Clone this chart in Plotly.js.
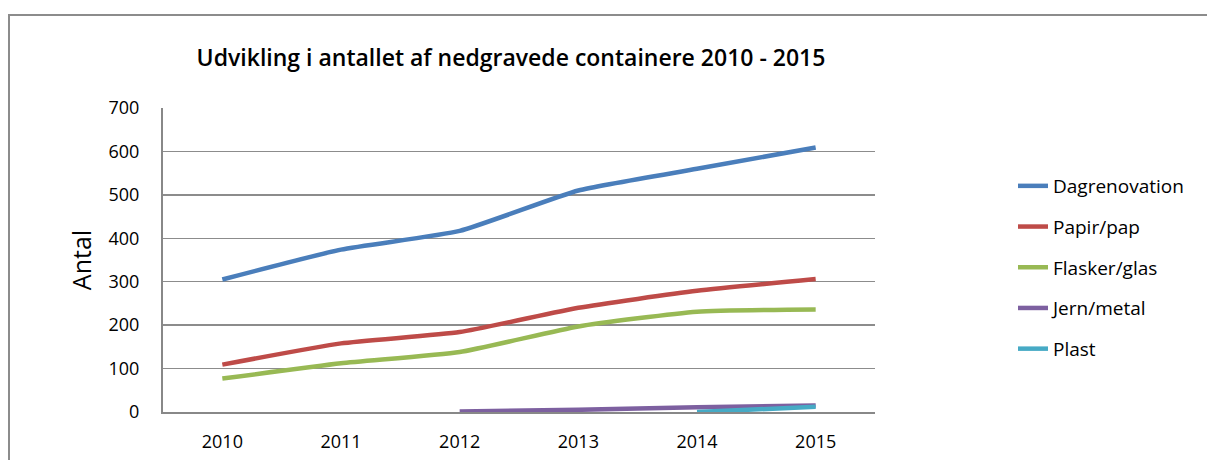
<!DOCTYPE html>
<html>
<head>
<meta charset="utf-8">
<script src="https://cdn.plot.ly/plotly-3.0.1.min.js"></script>
<style>
html,body{margin:0;padding:0;background:#fff;}
#wrap{position:relative;width:1207px;height:460px;}
#chart{position:absolute;left:0;top:0;width:1207px;height:460px;}
#frame{position:absolute;left:8px;top:14px;width:1199px;height:446px;border-top:2px solid #8c8c8c;border-left:2px solid #8c8c8c;box-sizing:border-box;pointer-events:none;}
</style>
</head>
<body>
<div id="wrap"><div id="chart"></div><div id="frame"></div></div>
<script>
const years = ['2010','2011','2012','2013','2014','2015'];
const dagrenovation = [305, 374, 417, 510, 560, 609];
const papirPap = [109, 158, 184, 240, 279, 306];
const flaskerGlas = [77, 112, 138, 197, 231, 236];
const jernMetal = [null, null, 1, 5, 11, 15];
const plast = [null, null, null, null, 0, 12];
const seriesNames = ['Dagrenovation', 'Papir/pap', 'Flasker/glas', 'Jern/metal', 'Plast'];
const seriesColors = ['#4A7EBB', '#BE4B48', '#98B954', '#7D60A0', '#46AAC5'];
const seriesValues = [dagrenovation, papirPap, flaskerGlas, jernMetal, plast];

const FONT = '"Open Sans", "Noto Sans", sans-serif';

const traces = seriesValues.map((vals, i) => ({
  x: years,
  y: vals,
  name: seriesNames[i],
  legendgroup: 'g' + i,
  type: 'scatter',
  mode: 'lines',
  connectgaps: false,
  line: {color: seriesColors[i], width: 4.5, shape: 'spline', smoothing: 0.5}
}));

const layout = {
  width: 1207, height: 460,
  paper_bgcolor: '#fff', plot_bgcolor: '#fff',
  margin: {l: 163, r: 332, t: 108, b: 48, pad: 0},
  font: {family: FONT, color: '#000', size: 18},
  title: {
    text: 'Udvikling i antallet af nedgravede containere 2010 - 2015',
    font: {family: FONT, size: 23, color: '#000', weight: 600},
    xref: 'container', yref: 'container',
    x: 511/1207, y: 1 - 58/460, xanchor: 'center', yanchor: 'middle'
  },
  xaxis: {
    type: 'category',
    range: [-0.5, 5.5],
    showgrid: false,
    showline: true, linecolor: '#888', linewidth: 2,
    ticks: '', ticklabelstandoff: 12,
    tickfont: {family: FONT, size: 18, color: '#000', weight: 500},
    zeroline: false, fixedrange: true
  },
  yaxis: {
    range: [0, 700],
    dtick: 100, tick0: 0,
    showgrid: true, gridcolor: '#8c8c8c', gridwidth: 1.5,
    showline: true, linecolor: '#888', linewidth: 2,
    zeroline: false,
    ticks: '', ticklabelstandoff: 18,
    tickfont: {family: FONT, size: 18, color: '#000', weight: 500},
    title: {text: 'Antal', font: {family: FONT, size: 25, color: '#000'}, standoff: 10},
    fixedrange: true
  },
  showlegend: true,
  legend: {
    x: (1013 - 163) / 712, xanchor: 'left',
    y: (412 - 167) / 304, yanchor: 'top',
    font: {family: FONT, size: 19, color: '#000'},
    tracegroupgap: 13,
    bgcolor: 'rgba(0,0,0,0)',
    itemwidth: 30
  }
};

Plotly.newPlot('chart', traces, layout, {displayModeBar: false, staticPlot: true});
</script>
</body>
</html>
